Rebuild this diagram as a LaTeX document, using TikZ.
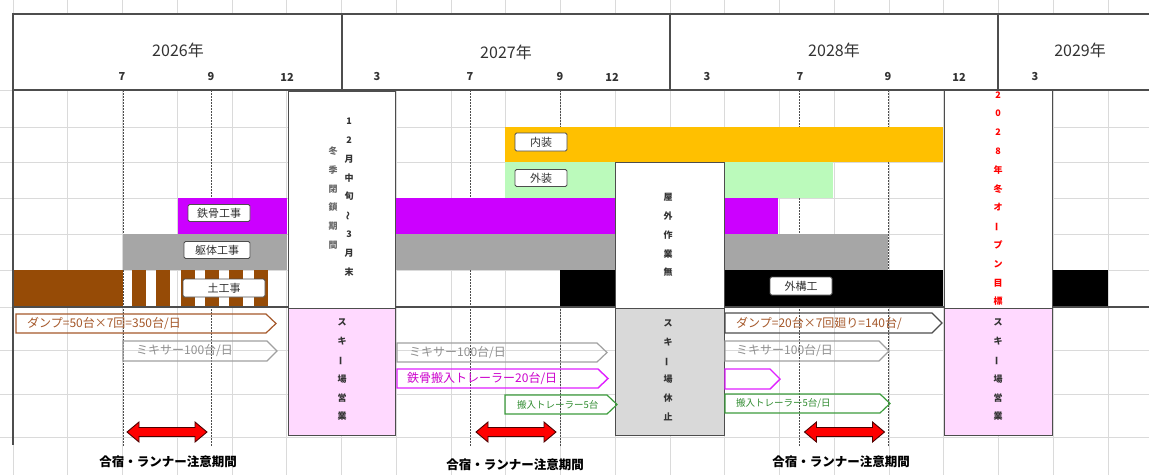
\documentclass[tikz,border=0pt]{standalone}
\usepackage{fontspec}
\setmainfont{Noto Sans CJK JP}
\usepackage{graphicx}
\definecolor{gridc}{HTML}{DADADA}
\definecolor{framec}{HTML}{4D4D4D}
\definecolor{orangeC}{HTML}{FFC000}
\definecolor{greenC}{HTML}{BBFABB}
\definecolor{magC}{HTML}{CC00FF}
\definecolor{grayC}{HTML}{A6A6A6}
\definecolor{brownC}{HTML}{964B06}
\definecolor{pinkC}{HTML}{FFD9FF}
\definecolor{gboxC}{HTML}{D9D9D9}
\definecolor{dumpC}{HTML}{A5582A}
\definecolor{mixC}{HTML}{A0A0A0}
\definecolor{mixT}{HTML}{909090}
\definecolor{magL}{HTML}{E020FF}
\definecolor{magT}{HTML}{CC00CC}
\definecolor{grnL}{HTML}{3C9C3C}
\definecolor{grnT}{HTML}{2E8B2E}
\definecolor{txtC}{HTML}{333333}
\newcommand\vchoon{\rotatebox[origin=c]{90}{ー}}
\newcommand\vwave{\rotatebox[origin=c]{90}{～}}
\newcommand\pent[5]{\draw[#1] (#2,#3) -- ({#4-10},#3) -- (#4,{(#3+#5)/2}) -- ({#4-10},#5) -- (#2,#5) -- cycle;}
\begin{document}
\begin{tikzpicture}[x=1pt,y=-1pt,
  gridline/.style={draw=gridc,line width=0.6pt},
  frame/.style={draw=framec,line width=1.2pt},
  dotline/.style={draw=framec,line width=0.9pt,dash pattern=on 1.5pt off 1.5pt},
  vbox/.style={draw=framec,line width=1pt,inner sep=0pt},
  lbl/.style={draw=framec,line width=0.9pt,fill=white,rounded corners=1.5pt,inner sep=0pt,font=\fontsize{11}{11}\selectfont,text=txtC},
  vtext/.style={align=center,inner sep=0pt,font=\bfseries\fontsize{9}{18.8}\selectfont,text=txtC},
  yearlbl/.style={inner sep=0pt,font=\fontsize{16}{16}\selectfont,text=txtC},
  monlbl/.style={inner sep=0pt,font=\bfseries\fontsize{11}{11}\selectfont,text=txtC},
  arrtxt/.style={anchor=west,inner sep=0pt,font=\fontsize{12}{12}\selectfont},
  smalltxt/.style={anchor=west,inner sep=0pt,font=\fontsize{9.5}{9.5}\selectfont},
  dumpar/.style={draw=dumpC,line width=1.2pt},
  dumpar2/.style={draw=framec,line width=1.2pt},
  mixar/.style={draw=mixC,line width=1.2pt},
  magar/.style={draw=magL,line width=1.4pt},
  grnar/.style={draw=grnL,line width=1.2pt},
  redarr/.style={fill=red,draw=black!70!red,line width=0.9pt},
  botlbl/.style={inner sep=0pt,font=\bfseries\fontsize{12.5}{12.5}\selectfont,text=black}
]
\useasboundingbox (0,0) rectangle (1149,475);
\fill[white] (0,0) rectangle (1149,475);
% grid
\foreach \i in {0,...,20} \draw[gridline] ({13+54.75*\i},0) -- ({13+54.75*\i},475);
\foreach \yy in {90,127,162,198,234,270,307,350,394,437} \draw[gridline] (0,\yy) -- (1149,\yy);
% header
\draw[frame,fill=white] (13,14) rectangle (1152,90);
\foreach \xx in {342,670,998} \draw[frame] (\xx,14) -- (\xx,90);
\node[yearlbl] (y2026) at (178,50) {2026年};
\node[yearlbl] (y2027) at (506,52) {2027年};
\node[yearlbl] (y2028) at (834,50) {2028年};
\node[yearlbl] (y2029) at (1080,50) {2029年};
\node[monlbl] (m1) at (122,77) {7};
\node[monlbl] (m2) at (211,77) {9};
\node[monlbl] (m3) at (287,77) {12};
\node[monlbl] (m4) at (377,77) {3};
\node[monlbl] (m5) at (470,77) {7};
\node[monlbl] (m6) at (560,77) {9};
\node[monlbl] (m7) at (612,77) {12};
\node[monlbl] (m8) at (707,77) {3};
\node[monlbl] (m9) at (800,77) {7};
\node[monlbl] (m10) at (888,77) {9};
\node[monlbl] (m11) at (959,77) {12};
\node[monlbl] (m12) at (1035,77) {3};
% dotted month lines
\foreach \xx in {123,211,470,560,799,888} \draw[dotline] (\xx,90) -- (\xx,447);
% bars
\fill[orangeC] (505,127) rectangle (943,162);
\fill[greenC] (505,162) rectangle (833,198);
\fill[magC] (178,198) rectangle (287,234);
\fill[magC] (396,198) rectangle (615,234);
\fill[magC] (725,198) rectangle (778,234);
\fill[grayC] (123,234) rectangle (287,270);
\fill[grayC] (396,234) rectangle (615,270);
\fill[grayC] (725,234) rectangle (888,270);
\fill[brownC] (13,270) rectangle (123,306);
\foreach \k in {0,...,5} \fill[brownC] ({132+24.3*\k},270) rectangle ({146+24.3*\k},306);
\fill[black] (560,270) rectangle (615,306);
\fill[black] (725,270) rectangle (943,306);
\fill[black] (1052,270) rectangle (1108,306);
% frame lines
\draw[frame] (13,90) -- (1149,90);
\draw[frame] (13,307) -- (1149,307);
\draw[frame] (13,90) -- (13,445);
% boxes
\node[vbox,fill=white,minimum width=107pt,minimum height=217pt] (b1) at (341.5,199.5) {};
\node[vbox,fill=pinkC,minimum width=107pt,minimum height=127pt] (p1) at (341.5,371.5) {};
\node[vbox,fill=white,minimum width=109pt,minimum height=146pt] (b2) at (669.5,235) {};
\node[vbox,fill=gboxC,minimum width=109pt,minimum height=127pt] (g2) at (669.5,371.5) {};
\node[vbox,fill=white,minimum width=108pt,minimum height=218pt] (b3) at (998,199) {};
\node[vbox,fill=pinkC,minimum width=108pt,minimum height=127pt] (p3) at (998,371.5) {};
% vertical texts
\node[vtext] (t1r) at (349,197) {1\\2\\月\\中\\旬\\\vwave\\3\\月\\末};
\node[vtext,text=txtC!75] (t1l) at (333,198) {冬\\季\\閉\\鎖\\期\\間};
\node[vtext] (t2) at (668,235) {屋\\外\\作\\業\\無};
\node[vtext,text=red] (t3) at (998,198.5) {2\\0\\2\\8\\年\\冬\\オ\\\vchoon\\プ\\ン\\目\\標};
\node[vtext] (tp1) at (342,370) {ス\\キ\\\vchoon\\場\\営\\業};
\node[vtext] (tg2) at (668,370) {ス\\キ\\\vchoon\\場\\休\\止};
\node[vtext] (tp3) at (998,370) {ス\\キ\\\vchoon\\場\\営\\業};
% bar labels
\node[lbl,minimum width=52pt,minimum height=18pt] (nai) at (541,142) {内装};
\node[lbl,minimum width=52pt,minimum height=17pt] (gai) at (541,178) {外装};
\node[lbl,minimum width=62pt,minimum height=17pt] (tekk) at (219,213) {鉄骨工事};
\node[lbl,minimum width=66pt,minimum height=17pt] (kuta) at (217,250) {躯体工事};
\node[lbl,minimum width=82pt,minimum height=18pt] (doko) at (224,288) {土工事};
\node[lbl,minimum width=62pt,minimum height=18pt] (gaik) at (801,286) {外構工};
% pentagon arrows
\pent{dumpar}{16}{314}{276}{333}
\pent{mixar}{123}{341}{277}{361}
\pent{mixar}{397}{343}{607}{362}
\pent{magar}{397}{369}{608}{388}
\pent{grnar}{505}{395}{617}{414}
\pent{dumpar2}{725}{313}{942}{333}
\pent{mixar}{725}{341}{889}{361}
\pent{magar}{725}{369}{780}{389}
\pent{grnar}{725}{394}{890}{413}
\node[arrtxt,text=dumpC] (a1) at (27,323.5) {ダンプ=50台×7回=350台/日};
\node[arrtxt,text=mixT] (a2) at (136,351) {ミキサー100台/日};
\node[arrtxt,text=mixT] (a3) at (409,352.5) {ミキサー100台/日};
\node[arrtxt,text=magT] (a4) at (407,378.5) {鉄骨搬入トレーラー20台/日};
\node[smalltxt,text=grnT] (a5) at (517,404.5) {搬入トレーラー5台};
\node[arrtxt,text=dumpC] (a6) at (736,323) {ダンプ=20台×7回廻り=140台/};
\node[arrtxt,text=mixT] (a7) at (736,351) {ミキサー100台/日};
\node[smalltxt,text=grnT] (a8) at (736,403.5) {搬入トレーラー5台/日};
% red double arrows
\coordinate (ra1) at (167,432);
\coordinate (ra2) at (516,432);
\coordinate (ra3) at (844.5,432);
\foreach \c in {ra1,ra2,ra3}
  \draw[redarr,shift={(\c)}] (-40,0) -- (-28,-10) -- (-28,-4.5) -- (28,-4.5) -- (28,-10) -- (40,0) -- (28,10) -- (28,4.5) -- (-28,4.5) -- (-28,10) -- cycle;
\node[botlbl] (c1) at (168,462) {合宿・ランナー注意期間};
\node[botlbl] (c2) at (515,465) {合宿・ランナー注意期間};
\node[botlbl] (c3) at (841,462) {合宿・ランナー注意期間};
\end{tikzpicture}
\end{document}
